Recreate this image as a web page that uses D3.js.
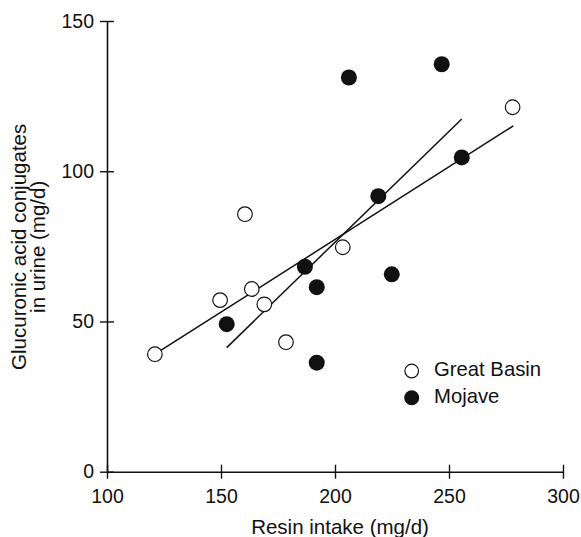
<!DOCTYPE html>
<html><head><meta charset="utf-8">
<script src="https://cdn.jsdelivr.net/npm/d3@7"></script>
<style>body{margin:0;background:#fff;} svg{display:block;font-family:"Liberation Sans",Arial,Helvetica,sans-serif;}</style>
</head><body>
<script>
// Great Basin (open circles)
const gbX = [121.0, 149.6, 160.5, 163.5, 169.0, 178.5, 203.4, 277.9];
const gbY = [39.1, 57.1, 85.7, 60.8, 55.7, 43.1, 74.7, 121.3];
// Mojave (filled circles)
const mjX = [152.5, 186.8, 192.0, 192.0, 206.1, 219.0, 224.9, 246.8, 255.6];
const mjY = [49.1, 68.2, 61.4, 36.3, 131.2, 91.7, 65.7, 135.6, 104.6];
// Regression line endpoints
const gbLineX = [121.0, 278.2];
const gbLineY = [39.1, 115.1];
const mjLineX = [152.5, 255.6];
const mjLineY = [41.3, 117.4];
const xTicks = [100, 150, 200, 250, 300];
const yTicks = [0, 50, 100, 150];
const seriesNames = ["Great Basin", "Mojave"];

const W = 581, H = 537;
const svg = d3.select("body").append("svg").attr("width", W).attr("height", H);
const x = d3.scaleLinear().domain([100, 300]).range([107, 563]);
const y = d3.scaleLinear().domain([0, 150]).range([471.7, 21]);

const ink = "#111";
// axes
const xAxis = svg.append("g").attr("transform", `translate(0,${y(0)})`)
  .call(d3.axisBottom(x).tickValues(xTicks).tickSize(0).tickPadding(17).tickFormat(d3.format("d")));
const yAxis = svg.append("g").attr("transform", `translate(${x(100)},0)`)
  .call(d3.axisLeft(y).tickValues(yTicks).tickSize(0).tickPadding(13).tickFormat(d3.format("d")));
[xAxis, yAxis].forEach(g => {
  g.select(".domain").attr("stroke", ink).attr("stroke-width", 1.6);
  g.selectAll("text").attr("font-size", 19.5).attr("fill", ink).attr("font-family", "Liberation Sans, Arial, sans-serif");
});
xAxis.selectAll(".tick text").attr("dy", "0.71em");
// crossing ticks
xAxis.selectAll(".tick").append("line").attr("y1", -7).attr("y2", 7).attr("stroke", ink).attr("stroke-width", 1.4);
yAxis.selectAll(".tick").append("line").attr("x1", -7).attr("x2", 7).attr("stroke", ink).attr("stroke-width", 1.4);

// axis titles
svg.append("text").attr("x", 340).attr("y", 534)
  .attr("text-anchor", "middle").attr("font-size", 20.5).attr("fill", ink).text("Resin intake (mg/d)");
const yt = svg.append("text").attr("transform", `translate(26,${(y(0)+y(150))/2 + 0.5}) rotate(-90)`)
  .attr("text-anchor", "middle").attr("font-size", 20.5).attr("fill", ink);
yt.append("tspan").attr("x", 0).attr("dy", 0).text("Glucuronic acid conjugates");
yt.append("tspan").attr("x", 0).attr("dy", 18.5).text("in urine (mg/d)");

// regression lines
const line = d3.line().x(d => x(d[0])).y(d => y(d[1]));
svg.append("path").attr("d", line(d3.zip(gbLineX, gbLineY))).attr("fill", "none").attr("stroke", ink).attr("stroke-width", 1.5);
svg.append("path").attr("d", line(d3.zip(mjLineX, mjLineY))).attr("fill", "none").attr("stroke", ink).attr("stroke-width", 1.5);

// points
svg.append("g").selectAll("circle").data(d3.zip(gbX, gbY)).join("circle")
  .attr("cx", d => x(d[0])).attr("cy", d => y(d[1])).attr("r", 7.3)
  .attr("fill", "#fff").attr("stroke", ink).attr("stroke-width", 1.2);
svg.append("g").selectAll("circle").data(d3.zip(mjX, mjY)).join("circle")
  .attr("cx", d => x(d[0])).attr("cy", d => y(d[1])).attr("r", 8)
  .attr("fill", ink);

// legend
const lg = svg.append("g");
lg.append("circle").attr("cx", 411.7).attr("cy", 371).attr("r", 6.8).attr("fill", "#fff").attr("stroke", ink).attr("stroke-width", 1.2);
lg.append("circle").attr("cx", 411.7).attr("cy", 397.7).attr("r", 7.5).attr("fill", ink);
lg.append("text").attr("x", 434).attr("y", 376).attr("font-size", 20.3).attr("fill", ink).text(seriesNames[0]);
lg.append("text").attr("x", 434).attr("y", 402.5).attr("font-size", 20.3).attr("fill", ink).text(seriesNames[1]);
</script>
</body></html>
